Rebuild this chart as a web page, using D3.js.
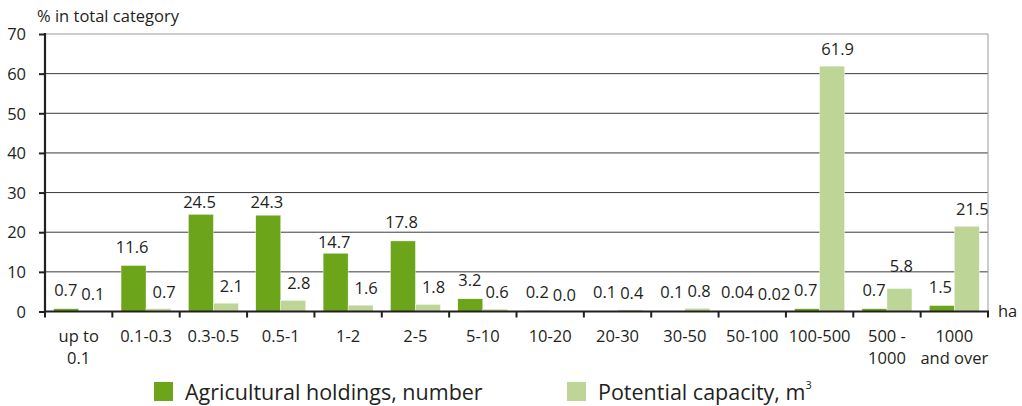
<!DOCTYPE html>
<html><head><meta charset="utf-8">
<script src="https://cdn.jsdelivr.net/npm/d3@7"></script>
<style>
html,body{margin:0;padding:0;background:#fff;}
text{font-family:"Open Sans","Noto Sans",sans-serif;fill:#231f20;}
</style></head>
<body><svg id="c" width="1022" height="406"></svg>
<script>
const categories = ["up to 0.1","0.1-0.3","0.3-0.5","0.5-1","1-2","2-5","5-10","10-20","20-30","30-50","50-100","100-500","500 - 1000","1000 and over"];
const categoryLines = [["up to","0.1"],["0.1-0.3"],["0.3-0.5"],["0.5-1"],["1-2"],["2-5"],["5-10"],["10-20"],["20-30"],["30-50"],["50-100"],["100-500"],["500 -","1000"],["1000","and over"]];
const holdings = [0.7,11.6,24.5,24.3,14.7,17.8,3.2,0.2,0.1,0.1,0.04,0.7,0.7,1.5];
const holdingsLabels = ["0.7","11.6","24.5","24.3","14.7","17.8","3.2","0.2","0.1","0.1","0.04","0.7","0.7","1.5"];
const capacity = [0.1,0.7,2.1,2.8,1.6,1.8,0.6,0.0,0.4,0.8,0.02,61.9,5.8,21.5];
const capacityLabels = ["0.1","0.7","2.1","2.8","1.6","1.8","0.6","0.0","0.4","0.8","0.02","61.9","5.8","21.5"];
const yTicks = [0,10,20,30,40,50,60,70];
const seriesNames = ["Agricultural holdings, number","Potential capacity, m"];
const seriesKeys = ["holdings","capacity"];
const colors = {holdings:"#6da51a", capacity:"#bdd597"};

const svg = d3.select("#c");
const L = 45, R = 988, T = 34, B = 311.5;
const x0 = d3.scaleBand().domain(categories).range([L,R]).paddingInner(0.258).paddingOuter(0.129);
const x1 = d3.scaleBand().domain(seriesKeys).range([0,x0.bandwidth()]);
const y = d3.scaleLinear().domain([0,70]).range([B,T]);

// gridlines
svg.append("g").selectAll("line").data(yTicks.filter(d=>d>0)).join("line")
  .attr("x1",L).attr("x2",R).attr("y1",d=>y(d)).attr("y2",d=>y(d))
  .attr("stroke",d=>d===70?"#9a9a9a":"#3a3a3a").attr("stroke-width",1);
svg.append("line").attr("x1",R).attr("x2",R).attr("y1",y(70)).attr("y2",B).attr("stroke","#9a9a9a");

// bars
const data = categories.map((c,i)=>({c, holdings:holdings[i], capacity:capacity[i], hl:holdingsLabels[i], cl:capacityLabels[i]}));
const g = svg.append("g");
data.forEach(d=>{
  seriesKeys.forEach(k=>{
    g.append("rect")
      .attr("x",x0(d.c)+x1(k)).attr("width",x1.bandwidth())
      .attr("y",y(d[k])).attr("height",B-y(d[k]))
      .attr("fill",colors[k]).attr("stroke","#fff").attr("stroke-width",0.4);
  });
});

// value labels with gridline avoidance
const grids = yTicks.filter(d=>d>0).map(d=>y(d));
function labelY(v){
  const top = y(v);
  let b = top - 13;
  for (const gy of grids){
    if (gy > b-13 && gy < b+2){
      const below = gy + 15.5;
      if (below <= top - 4) b = below; else b = gy - 2.3;
    }
  }
  return b;
}
data.forEach(d=>{
  const cxH = x0(d.c)+x1("holdings")+x1.bandwidth()/2;
  const cxC = x0(d.c)+x1("capacity")+x1.bandwidth()/2;
  const tH = svg.append("text").attr("x",cxH).attr("y",labelY(d.holdings))
    .attr("text-anchor","middle").attr("font-size",16.5).text(d.hl);
  const tC = svg.append("text").attr("x",cxC).attr("y",labelY(d.capacity))
    .attr("text-anchor","middle").attr("font-size",16.5).text(d.cl);
  // keep the pair apart if they collide
  const wH = tH.node().getComputedTextLength(), wC = tC.node().getComputedTextLength();
  const gap = (cxC - wC/2) - (cxH + wH/2);
  if (gap < 4) {
    const need = 4 - gap;
    tH.attr("x", cxH - need*0.2);
    tC.attr("x", cxC + need*0.8).attr("y", labelY(d.capacity)+2);
  }
});

// y axis
const yAxis = d3.axisLeft(y).tickValues(yTicks).tickSize(6).tickPadding(13);
const ya = svg.append("g").attr("transform",`translate(${L},0)`).call(yAxis);
ya.select(".domain").attr("stroke","#231f20").attr("stroke-width",2.2).attr("d",`M0,${T-1}V${B}`);
ya.selectAll(".tick line").attr("stroke","#231f20").attr("stroke-width",2);
ya.selectAll(".tick text").attr("font-size",16.5).attr("font-family","Open Sans").attr("fill","#231f20").attr("dy","0.35em");

// x axis baseline + ticks at category boundaries
svg.append("line").attr("x1",L-1).attr("x2",R+1).attr("y1",B).attr("y2",B).attr("stroke","#231f20").attr("stroke-width",2.2);
const step = x0.step();
svg.append("g").selectAll("line").data(d3.range(0,categories.length+1)).join("line")
  .attr("x1",i=>L+i*step).attr("x2",i=>L+i*step).attr("y1",B).attr("y2",B+6)
  .attr("stroke","#231f20").attr("stroke-width",2);

// x labels
categories.forEach((c,i)=>{
  const cx = L + (i+0.5)*step;
  const t = svg.append("text").attr("text-anchor","middle").attr("font-size",16.5).attr("y",341.5);
  categoryLines[i].forEach((ln,j)=>{
    t.append("tspan").attr("x",cx).attr("dy",j===0?0:22).text(ln);
  });
});
svg.append("text").attr("x",998).attr("y",317).attr("font-size",16.5).text("ha");

// title
svg.append("text").attr("x",37).attr("y",22).attr("font-size",16.5).text("% in total category");

// legend
const legX = [154,567];
seriesKeys.forEach((k,i)=>{
  svg.append("rect").attr("x",legX[i]).attr("y",382).attr("width",19).attr("height",19).attr("fill",colors[k]);
  const t = svg.append("text").attr("x",legX[i]+31).attr("y",400).attr("font-size",21.5).text(seriesNames[i]);
  if (k==="capacity") t.append("tspan").attr("font-size",11).attr("dy",-11).text("3");
});
</script></body></html>
